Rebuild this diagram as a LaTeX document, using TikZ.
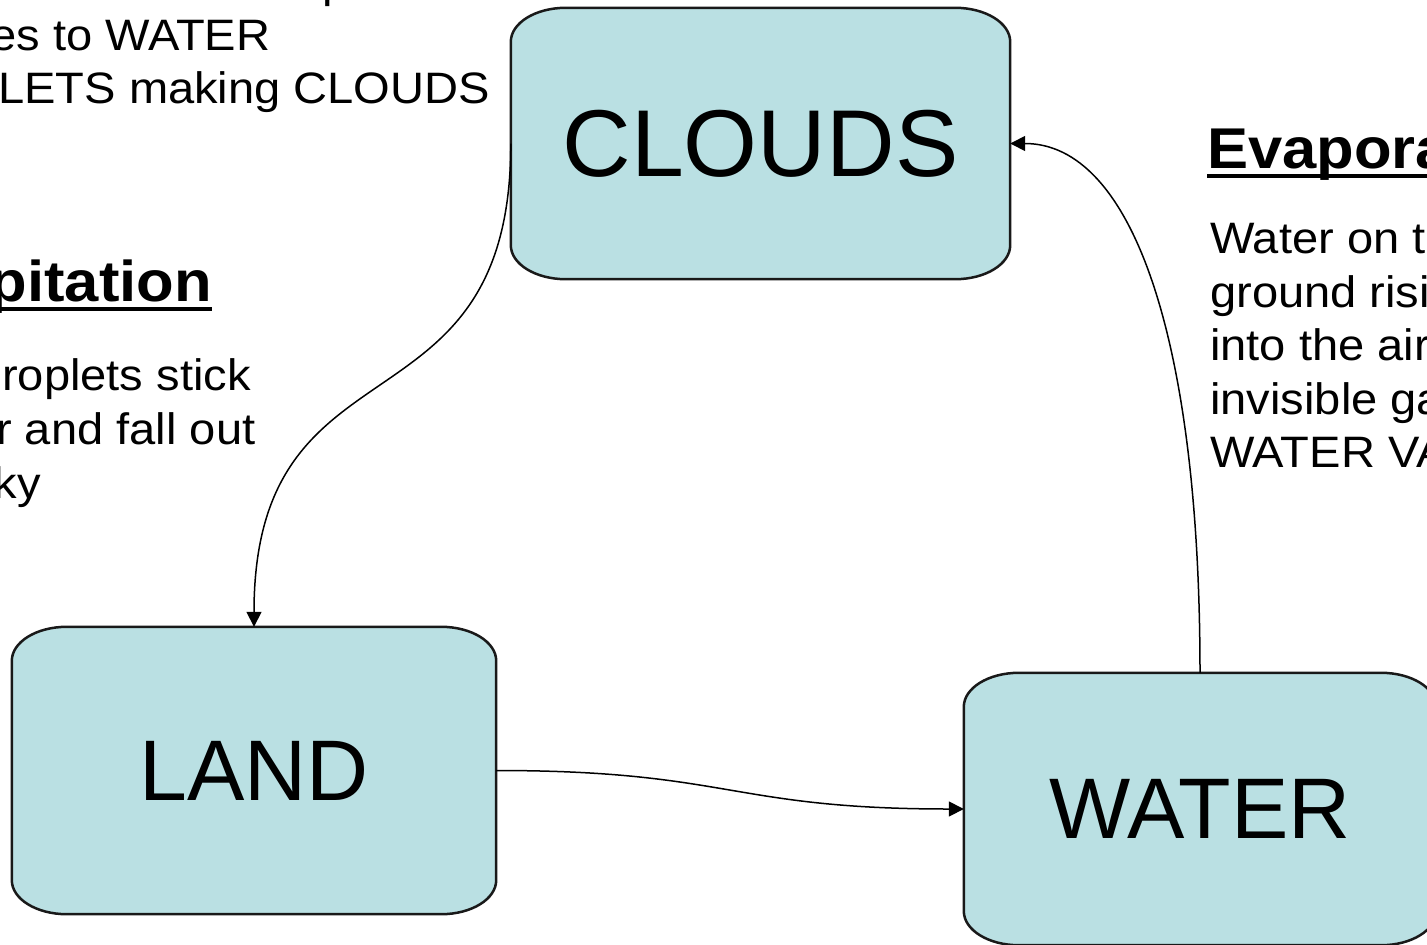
\documentclass[tikz,border=0pt]{standalone}
\usepackage{fontspec}
\setmainfont{Liberation Sans}
\newfontfamily\notefont[FakeStretch=1.07]{Liberation Sans}
\usetikzlibrary{arrows.meta,backgrounds}

\definecolor{cardfill}{RGB}{186,224,227}
\definecolor{cardline}{RGB}{25,25,25}

% corner radii of the stage cards
\def\cardrx{55pt}
\def\cardry{34pt}

% card outline with oval corners round a named node
\newcommand\cardpath[1]{%
  \filldraw[card] ([xshift=\cardrx]#1.north west) -- ([xshift=-\cardrx]#1.north east)
    arc[start angle=90,end angle=0,x radius=\cardrx,y radius=\cardry]
    -- ([yshift=\cardry]#1.south east)
    arc[start angle=0,end angle=-90,x radius=\cardrx,y radius=\cardry]
    -- ([xshift=\cardrx]#1.south west)
    arc[start angle=270,end angle=180,x radius=\cardrx,y radius=\cardry]
    -- ([yshift=-\cardry]#1.north west)
    arc[start angle=180,end angle=90,x radius=\cardrx,y radius=\cardry]
    -- cycle;}

\begin{document}
\begin{tikzpicture}[x=1pt,y=-1pt,>={Triangle[length=15pt,width=15pt]},
  card/.style={fill=cardfill,draw=cardline,line width=2.5pt},
  cardtext/.style={inner sep=0pt,font=\fontsize{86}{100}\selectfont},
  flow/.style={->,line width=1.5pt},
  body/.style={anchor=base west,inner sep=0pt,font=\notefont\fontsize{44}{54}\selectfont},
  head/.style={anchor=base west,inner sep=0pt,font=\notefont\fontsize{57.5}{70}\selectfont\bfseries},
  headrule/.style={line width=3.5pt}]
  \useasboundingbox (0,0) rectangle (1427,945);
  \clip (0,0) rectangle (1427,945);

  % stages
  \node[cardtext,minimum width=499pt,minimum height=271pt,
    font=\fontsize{95}{110}\selectfont] (clouds) at (760.5,143.5) {CLOUDS};
  \node[cardtext,minimum width=484pt,minimum height=287pt] (land) at (254,770.5) {LAND};
  \node[cardtext,minimum width=472pt,minimum height=272pt] (water) at (1200,809) {WATER};
  \begin{scope}[on background layer]
    \cardpath{clouds}
    \cardpath{land}
    \cardpath{water}
  \end{scope}

  % condensation notes
  \node[body] (cnd1) at (-138,-3) {Water VAPOR cools up};
  \node[body] (cnd2) at (-138,50) {changes to WATER};
  \node[body] (cnd3) at (-138,103) {DROPLETS making CLOUDS};

  % precipitation notes
  \node[head] (pre) at (-161,301) {Precipitation};
  \draw[headrule] ([yshift=-8pt]pre.base west) -- ([yshift=-8pt]pre.base east);
  \node[body] (pre1) at (-161,390) {Water droplets stick};
  \node[body] (pre2) at (-161,444) {together and fall out};
  \node[body] (pre3) at (-161,498) {of the sky};

  % evaporation notes
  \node[head] (eva) at (1207,168) {Evaporation};
  \draw[headrule] ([yshift=-8pt]eva.base west) -- ([yshift=-8pt]eva.base east);
  \node[body] (eva1) at (1210,253) {Water on the};
  \node[body] (eva2) at (1210,307) {ground rising};
  \node[body] (eva3) at (1210,360) {into the air};
  \node[body] (eva4) at (1210,414) {invisible gas};
  \node[body] (eva5) at (1210,467) {WATER VAPOR};

  % the cycle
  \draw[flow] (clouds.west) .. controls +(0,300) and +(0,-300) .. (land.north);
  \draw[flow] (land.east) .. controls +(234,0) and +(-234,0) .. (water.west);
  \draw[flow] (water.north) .. controls +(0,-340) and +(120,0) .. (clouds.east);
\end{tikzpicture}
\end{document}
